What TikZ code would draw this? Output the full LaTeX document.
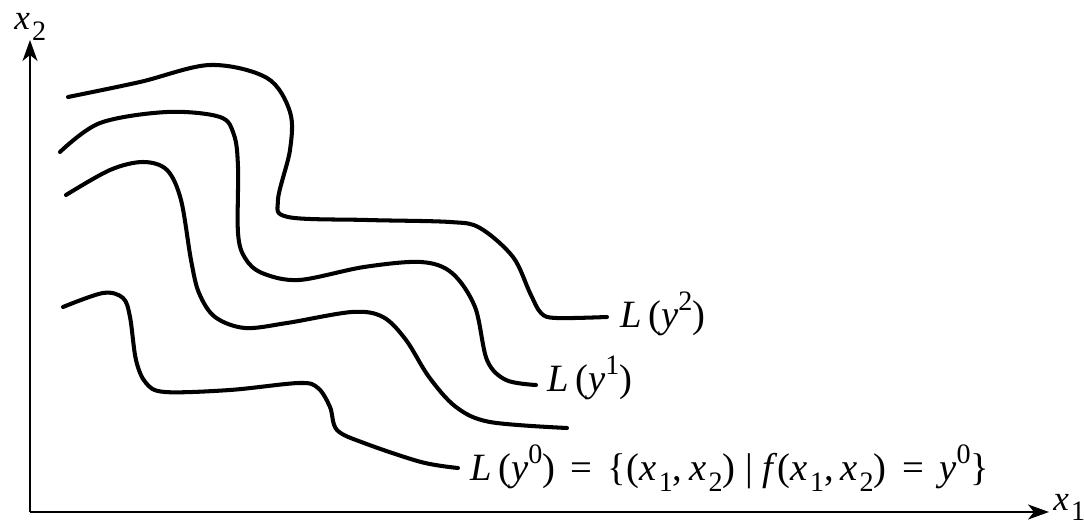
\documentclass[tikz,border=0pt]{standalone}
\usepackage{fontspec}
\setmainfont{Liberation Serif}
\usetikzlibrary{arrows.meta}
\newcommand{\vi}[1]{\textit{#1}}
\newcommand{\sups}[1]{\raisebox{0.42em}{\fontsize{16}{16}\selectfont #1}}
\newcommand{\subs}[1]{\hspace{0.06em}\raisebox{-0.3em}{\fontsize{16}{16}\selectfont #1}}
\newcommand{\eqsp}{\hspace{0.4em}=\hspace{0.4em}}
\begin{document}
\begin{tikzpicture}[x=0.02cm,y=-0.02cm,
  axis/.style={line width=1.2pt,-{Stealth[length=0.42cm,width=0.3cm,inset=0.12cm]}},
  level/.style={line width=2.3pt,line cap=round,smooth,tension=0.55},
  lab/.style={font=\fontsize{22}{26}\selectfont,inner sep=0pt,anchor=base west},
  axlab/.style={lab,font=\fontsize{20}{24}\selectfont}]
\useasboundingbox (0,0) rectangle (1084,523);
\coordinate (O) at (30,512);
\coordinate (Ytop) at (30,40);
\coordinate (Xend) at (1049,512);
\draw[axis] (O) -- (Ytop);
\draw[axis] (O) -- (Xend);
\node[axlab] (x2) at (14,30) {\vi{x}\subs{2}};
\node[axlab] (x1) at (1053,510) {\vi{x}\subs{1}};
% level curves
\draw[level] plot coordinates {(68,97) (140,82) (210,65) (267,78) (290,112) (290,150) (278,200) (288,217) (367,220) (450,222) (480,228) (513,257) (530,293) (541,313) (556,318) (607,317)};
\draw[level] plot coordinates {(60,152) (100,123) (167,112) (220,117) (234,135) (238,167) (238,233) (245,258) (262,273) (299,280) (364,267) (421,262) (452,273) (475,307) (487,360) (506,380) (536,385)};
\draw[level] plot coordinates {(66,195) (110,170) (143,162) (167,170) (181,200) (191,260) (199,293) (215,317) (245,328) (287,323) (352,312) (383,317) (406,340) (429,377) (456,407) (490,422) (567,428)};
\draw[level] plot coordinates {(63,307) (103,293) (123,298) (130,317) (136,360) (146,383) (165,392) (230,390) (299,383) (318,388) (330,407) (337,430) (364,443) (421,462) (458,468)};
% labels
\node[lab] (L2) at (620,327) {\vi{L}\,(\vi{y}\sups{2})};
\node[lab] (L1) at (547,391) {\vi{L}\,(\vi{y}\sups{1})};
\node[lab] (L0) at (470,480) {\vi{L}\,(\vi{y}\sups{0})\eqsp\{(\vi{x}\subs{1},\,\vi{x}\subs{2})\hspace{0.25em}|\hspace{0.25em}\vi{f}(\vi{x}\subs{1},\,\vi{x}\subs{2})\eqsp\vi{y}\sups{0}\}};
\end{tikzpicture}
\end{document}
